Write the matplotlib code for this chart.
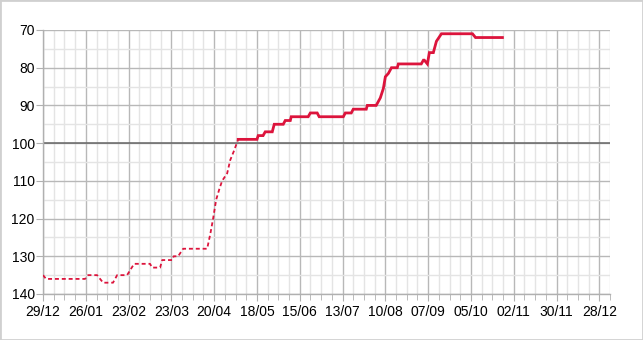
import matplotlib.pyplot as plt
from matplotlib.patches import Rectangle
from matplotlib.ticker import MultipleLocator, FixedLocator

# days counted from 29/12
dotted_days = [0, 2, 27.5, 29.5, 35.4, 39.3, 45.8, 48.5, 55, 59.6, 70, 71.4,
               76.6, 78, 84.5, 85.5, 88.4, 91.7, 107.4, 109.5, 111.3, 113.3,
               115.5, 117.2, 120.5, 122.5, 125, 127.7]
dotted_rank = [135, 136, 136, 135, 135, 137, 137, 135, 135, 132, 132, 133,
               133, 131, 131, 130, 130, 128, 128, 124, 120, 115,
               112, 110, 108, 104.5, 102, 99]

solid_days = [127.7, 140, 140.8, 144, 145.4, 150, 151.3, 157.2, 158.5, 161.8,
              162.4, 173.5, 174.9, 179.4, 180.7, 196.5, 197.8, 201.7, 203,
              211.5, 212.2, 218, 220.7, 222.7, 224, 226, 228, 231.8, 232.5,
              247.5, 248.9, 249.5, 251.5, 252.8, 255.4, 257.4, 260.7, 281,
              283, 300.6]
solid_rank = [99, 99, 98, 98, 97, 97, 95, 95, 94, 94,
              93, 93, 92, 92, 93, 93, 92, 92, 91,
              91, 90, 90, 88, 85.5, 82.4, 81.5, 80, 80, 79,
              79, 78, 78, 79, 76, 76, 73, 71, 71,
              72, 72]

tick_days = [0, 28, 56, 84, 112, 140, 168, 196, 224, 252, 280, 308, 336, 364]
tick_labels = ['29/12', '26/01', '23/02', '23/03', '20/04', '18/05', '15/06',
               '13/07', '10/08', '07/09', '05/10', '02/11', '30/11', '28/12']

plt.rcParams['font.family'] = ['Liberation Sans', 'DejaVu Sans']

fig = plt.figure(figsize=(6.43, 3.4), dpi=100, facecolor='white')
ax = fig.add_axes([0.0669, 0.1353, 0.9487 - 0.0669, 0.9118 - 0.1353])

ax.set_xlim(0, 371)
ax.set_ylim(140, 70)

ax.xaxis.set_major_locator(FixedLocator(tick_days))
ax.set_xticklabels(tick_labels)
ax.xaxis.set_minor_locator(MultipleLocator(7))
ax.yaxis.set_major_locator(MultipleLocator(10))
ax.yaxis.set_minor_locator(MultipleLocator(5))

ax.grid(True, which='major', color='#b8b8b8', linewidth=1)
ax.grid(True, which='minor', color='#e4e4e4', linewidth=1)
ax.set_axisbelow(True)
ax.axhline(100, color='#666666', linewidth=1.1, zorder=1.5)

for s in ['top', 'right']:
    ax.spines[s].set_visible(False)
for s in ['left', 'bottom']:
    ax.spines[s].set_color('#b0b0b0')
    ax.spines[s].set_linewidth(1)

ax.tick_params(axis='x', which='major', length=5, color='#b0b0b0', labelsize=10, pad=3)
ax.tick_params(axis='x', which='minor', length=4, color='#b0b0b0')
ax.tick_params(axis='y', which='major', length=5, color='#b0b0b0', labelsize=10, pad=1)
ax.tick_params(axis='y', which='minor', length=0)

ax.plot(dotted_days, dotted_rank, color='#dc143c', linewidth=1.3,
        linestyle=(0, (2.2, 1.6)), zorder=3)
ax.plot(solid_days, solid_rank, color='#dc143c', linewidth=2.0,
        solid_joinstyle='miter', zorder=3)

fig.patches.append(Rectangle((0, 0), 1, 1, transform=fig.transFigure,
                             fill=False, edgecolor='#d0d0d0', linewidth=2))

fig.savefig('out.png', dpi=100)
